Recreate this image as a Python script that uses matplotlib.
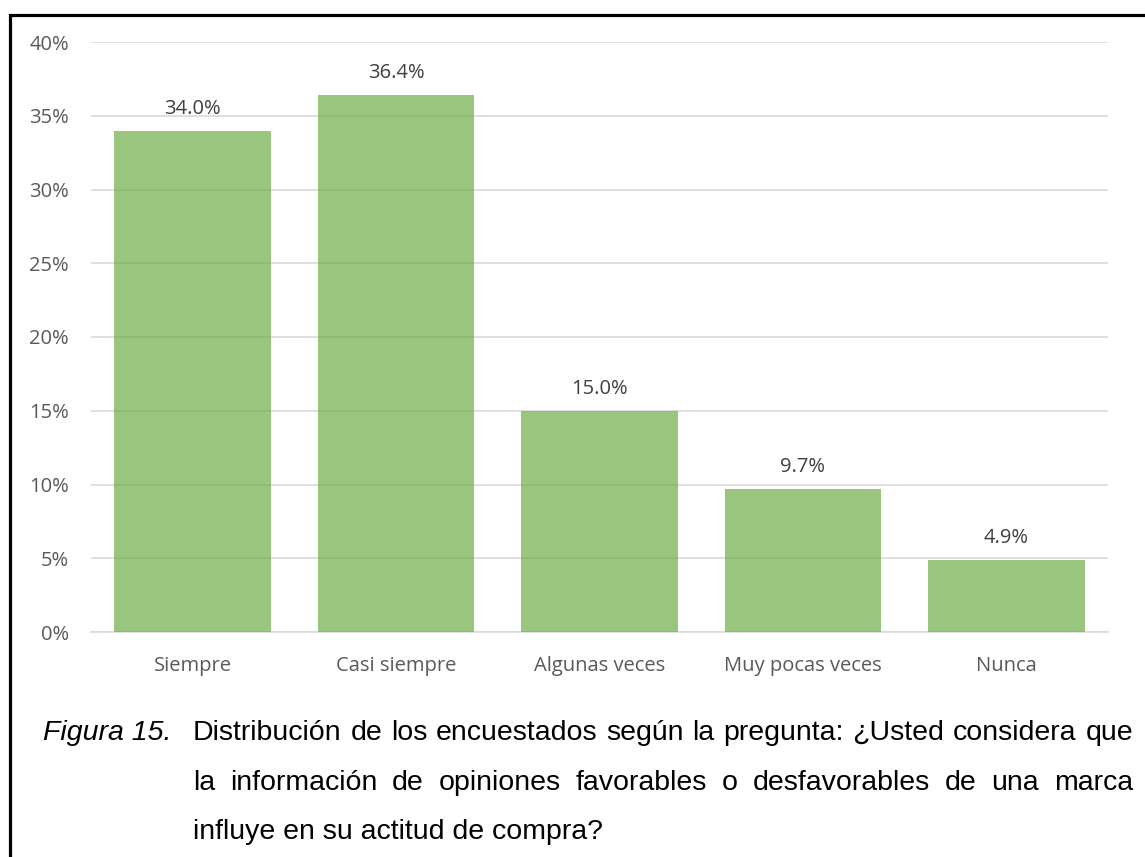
import matplotlib
matplotlib.use("Agg")
import matplotlib.pyplot as plt
from matplotlib.lines import Line2D
from matplotlib.transforms import IdentityTransform

plt.rcParams["font.family"] = ["Open Sans", "DejaVu Sans"]

# Survey answers and their share of respondents (%)
categories = ["Siempre", "Casi siempre", "Algunas veces", "Muy pocas veces", "Nunca"]
percentages = [34.0, 36.4, 15.0, 9.7, 4.9]
y_ticks = [0, 5, 10, 15, 20, 25, 30, 35, 40]

caption_label = "Figura 15."
caption_lines = [
    "Distribución de los encuestados según la pregunta: ¿Usted considera que",
    "la información de opiniones favorables o desfavorables de una marca",
    "influye en su actitud de compra?",
]

W, H = 1145, 857
BAR = "#70AD47"
GRID = "#D9D9D9"
TICK = "#595959"
LABEL = "#404040"

fig = plt.figure(figsize=(W / 100, H / 100), dpi=100)
fig.patch.set_facecolor("white")

ax = fig.add_axes([91 / W, (H - 632) / H, (1108 - 91) / W, (632 - 42) / H])
x = list(range(len(categories)))
ax.bar(x, percentages, width=0.77, color=BAR, alpha=0.7, zorder=3)

ax.set_xlim(-0.5, len(categories) - 0.5)
ax.set_ylim(0, 40)
ax.set_yticks(y_ticks)
ax.set_yticklabels([f"{t}%" for t in y_ticks])
ax.set_xticks(x)
ax.set_xticklabels(categories)
ax.set_axisbelow(True)
ax.grid(axis="y", color=GRID, linewidth=1.2)
for side in ["top", "right", "left"]:
    ax.spines[side].set_visible(False)
ax.spines["bottom"].set_color(GRID)
ax.spines["bottom"].set_linewidth(1.2)
ax.tick_params(length=0, labelsize=14.5, labelcolor=TICK)
ax.tick_params(axis="y", pad=16)
ax.tick_params(axis="x", pad=17)

# value labels over each bar
for xi, v in zip(x, percentages):
    ax.annotate(f"{v:.1f}%", (xi, v), xytext=(0, 12), textcoords="offset points",
                ha="center", va="baseline", fontsize=14.5, color=LABEL)

# caption below the chart, in pixel coordinates
cap_kw = dict(family="Liberation Sans", fontsize=20.5, color="black")
renderer = fig.canvas.get_renderer()


def justify(line, y, x0, x1):
    words = line.split()
    texts = [fig.text(0, y, w, transform=IdentityTransform(), va="baseline", **cap_kw)
             for w in words]
    widths = [t.get_window_extent(renderer).width for t in texts]
    gap = (x1 - x0 - sum(widths)) / (len(words) - 1)
    pos = x0
    for t, w in zip(texts, widths):
        t.set_x(pos)
        pos += w + gap


fig.text(43, H - 740, caption_label, transform=IdentityTransform(), va="baseline",
         style="italic", **cap_kw)
baselines = [740, 790, 839]
for i, (line, yb) in enumerate(zip(caption_lines, baselines)):
    if i < len(caption_lines) - 1:
        justify(line, H - yb, 193, 1133)
    else:
        fig.text(193, H - yb, line, transform=IdentityTransform(), va="baseline", **cap_kw)

# frame running along the left and top edges
fig.add_artist(Line2D([9.5, 9.5, W], [0, H - 15, H - 15], transform=IdentityTransform(),
                      color="black", linewidth=2.3, solid_joinstyle="miter"))

fig.savefig("out.png", dpi=100, facecolor="white")
